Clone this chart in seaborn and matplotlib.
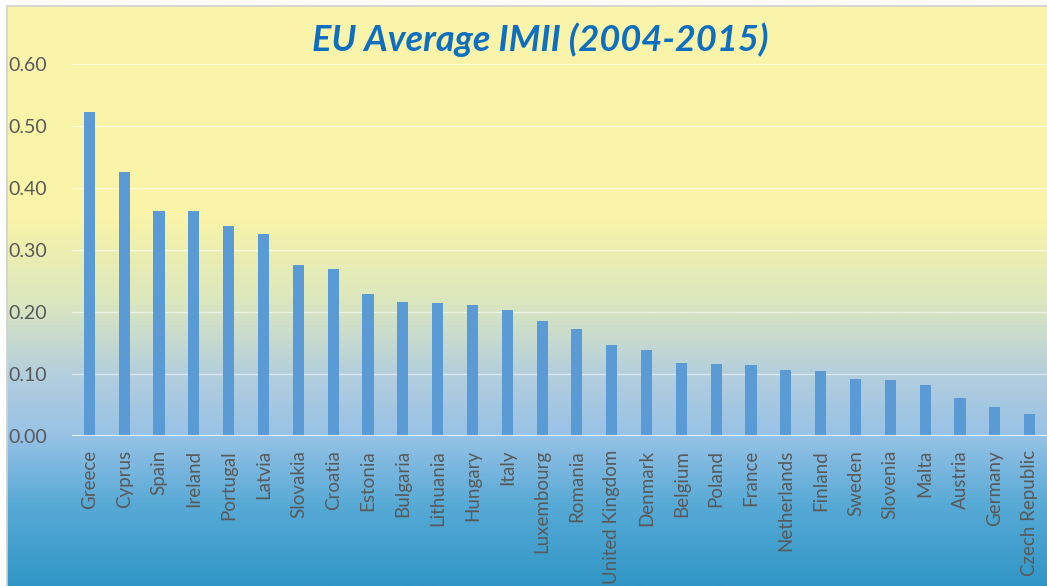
import numpy as np
import pandas as pd
import matplotlib
matplotlib.use("Agg")
import matplotlib.pyplot as plt
from matplotlib.colors import LinearSegmentedColormap
from matplotlib.ticker import FormatStrFormatter, MultipleLocator
import seaborn as sns

# ── Data ────────────────────────────────────────────────────────
COUNTRIES = [
    "Greece", "Cyprus", "Spain", "Ireland", "Portugal", "Latvia", "Slovakia",
    "Croatia", "Estonia", "Bulgaria", "Lithuania", "Hungary", "Italy",
    "Luxembourg", "Romania", "United Kingdom", "Denmark", "Belgium", "Poland",
    "France", "Netherlands", "Finland", "Sweden", "Slovenia", "Malta",
    "Austria", "Germany", "Czech Republic",
]
IMII = [
    0.523, 0.426, 0.363, 0.363, 0.339, 0.326, 0.276,
    0.269, 0.229, 0.216, 0.214, 0.212, 0.204,
    0.186, 0.172, 0.147, 0.139, 0.118, 0.116,
    0.114, 0.107, 0.105, 0.092, 0.091, 0.082,
    0.061, 0.047, 0.035,
]
TITLE = "EU Average IMII (2004-2015)"

BAR_COL = "#5B9BD5"
TEXT_COL = "#595959"
W, H = 1047, 586

sns.set_theme(style="white")
plt.rcParams["font.family"] = ["Lato", "DejaVu Sans"]

fig = plt.figure(figsize=(W / 100, H / 100), dpi=100)

# ── Gradient background (yellow -> blue) ────────────────────────
bg = fig.add_axes([7 / W, 0, 1 - 7 / W, 1 - 6 / H])
stops = [
    (0.00, (250, 245, 170)),
    (0.36, (249, 244, 168)),
    (0.50, (222, 232, 188)),
    (0.64, (178, 206, 222)),
    (0.74, (152, 194, 230)),
    (0.86, (88, 170, 214)),
    (1.00, (48, 150, 198)),
]
cmap = LinearSegmentedColormap.from_list(
    "bg", [(p, tuple(c / 255 for c in rgb)) for p, rgb in stops])
grad = np.linspace(0, 1, 512).reshape(-1, 1)
bg.imshow(grad, aspect="auto", cmap=cmap, extent=[0, 1, 1, 0])
bg.set_axis_off()
fig.add_artist(plt.Line2D([7 / W, 1], [1 - 6 / H, 1 - 6 / H],
                          color="#d0d0d0", linewidth=1.2))
fig.add_artist(plt.Line2D([7 / W, 7 / W], [0, 1 - 6 / H],
                          color="#d0d0d0", linewidth=1.2))

# ── Bar chart ───────────────────────────────────────────────────
ax = fig.add_axes([72 / W, 1 - 436 / H, 1 - 72 / W, (436 - 64) / H])
ax.patch.set_alpha(0)
df = pd.DataFrame({"country": COUNTRIES, "imii": IMII})
sns.barplot(data=df, x="country", y="imii", color=BAR_COL,
            width=0.32, saturation=1, linewidth=0, ax=ax, zorder=3)

ax.set_xlim(-0.5, len(COUNTRIES) - 0.5)
ax.set_ylim(0, 0.6)
ax.yaxis.set_major_locator(MultipleLocator(0.1))
ax.yaxis.set_major_formatter(FormatStrFormatter("%.2f"))
ax.grid(True, axis="y", color="white", alpha=0.55, linewidth=1.0, zorder=0)
ax.axhline(0, color="white", alpha=0.8, linewidth=1.5, zorder=4)
for s in ax.spines.values():
    s.set_visible(False)
ax.set_xlabel("")
ax.set_ylabel("")
ax.tick_params(axis="y", length=0, pad=18, labelsize=14, labelcolor=TEXT_COL)
ax.tick_params(axis="x", length=0, pad=10, labelsize=13.5, labelcolor=TEXT_COL,
               rotation=90)

fig.text(540 / W, 1 - 40 / H, TITLE, ha="center", va="center",
         fontsize=26, fontweight="bold", fontstyle="italic", color="#0E6FC0")

fig.savefig("out.png", dpi=100)
plt.close(fig)
